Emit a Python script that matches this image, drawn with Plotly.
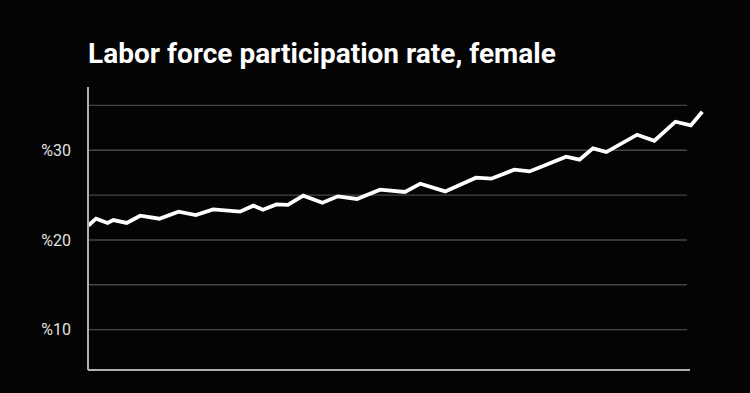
import plotly.graph_objects as go

# Data (approximate)
years = [1990.0, 1990.4, 1991.0, 1991.3, 1992.0, 1992.7, 1993.7, 1994.7, 1995.6, 1996.5,
         1997.9, 1998.6, 1999.1, 1999.8, 2000.4, 2001.2, 2002.2, 2003.0, 2004.0, 2005.2,
         2006.5, 2007.3, 2008.6, 2010.2, 2011.0, 2012.2, 2013.0, 2014.9, 2015.6, 2016.3,
         2017.0, 2018.6, 2019.5, 2020.6, 2021.4, 2022.0]
rate = [21.6, 22.37, 21.89, 22.22, 21.89, 22.70, 22.37, 23.15, 22.78, 23.41,
        23.15, 23.82, 23.37, 23.96, 23.90, 24.93, 24.15, 24.86, 24.57, 25.60,
        25.35, 26.27, 25.41, 26.94, 26.83, 27.83, 27.64, 29.28, 28.95, 30.21,
        29.80, 31.73, 31.06, 33.18, 32.77, 34.30]

grid_values = [10, 15, 20, 25, 30, 35]
tick_values = [10, 20, 30]
tick_labels = ["%10", "%20", "%30"]

title_text = "Labor force participation rate, female"

x_start = 1989.98
x_axis_end = 2021.36
grid_end = 2021.2
x_range = [x_start, 2022.14]
y_range = [5.5, 37.05]

fig = go.Figure()
fig.add_trace(go.Scatter(
    x=years, y=rate, mode="lines",
    line=dict(color="#ffffff", width=3.8),
    hoverinfo="skip", showlegend=False,
))

shapes = []
for g in grid_values:
    shapes.append(dict(type="line", xref="x", yref="y", x0=x_start, x1=grid_end, y0=g, y1=g,
                       line=dict(color="#464646", width=1.4), layer="below"))
# x axis line
shapes.append(dict(type="line", xref="x", yref="paper", x0=x_start, x1=x_axis_end, y0=0, y1=0,
                   line=dict(color="#b0b0b0", width=2), layer="above"))
# y axis line
shapes.append(dict(type="line", xref="paper", yref="paper", x0=0, x1=0, y0=0, y1=1,
                   line=dict(color="#b0b0b0", width=2), layer="above"))

fig.update_layout(
    width=750, height=393,
    paper_bgcolor="#040404", plot_bgcolor="#040404",
    margin=dict(l=88, r=45, t=87, b=23),
    title=dict(text="<b>" + title_text + "</b>", x=88/750, xanchor="left",
               y=1 - 53/393, yanchor="middle", yref="container",
               font=dict(family="Roboto", size=28, color="#ffffff")),
    xaxis=dict(range=x_range, showgrid=False, showline=False, zeroline=False,
               showticklabels=False, ticks=""),
    yaxis=dict(range=y_range, showgrid=False, showline=False, zeroline=False,
               tickvals=tick_values, ticktext=tick_labels, ticks="",
               ticklabelstandoff=16,
               tickfont=dict(family="Roboto", size=16, color="#e0e0e0")),
    shapes=shapes,
)

fig.write_html(
    "out.html",
    config={"displayModeBar": False},
    post_script="document.body.style.margin='0';document.body.style.background='#040404';",
)
